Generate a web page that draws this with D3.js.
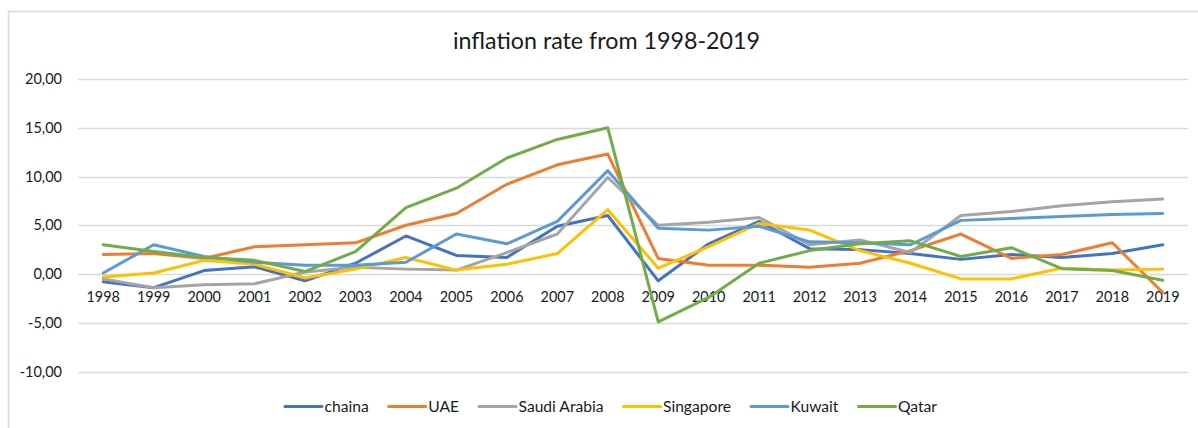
<!DOCTYPE html>
<html>
<head>
<meta charset="utf-8">
<script src="https://cdn.jsdelivr.net/npm/d3@7"></script>
<style>
  html, body { margin: 0; padding: 0; background: #fff; }
  svg { display: block; font-family: Lato, "Open Sans", sans-serif; }
</style>
</head>
<body>
<svg id="chart" width="1198" height="428"></svg>
<script>
const years = [1998,1999,2000,2001,2002,2003,2004,2005,2006,2007,2008,2009,2010,2011,2012,2013,2014,2015,2016,2017,2018,2019];
const chaina      = [-0.8,-1.4,0.35,0.75,-0.7,1.1,3.9,1.9,1.7,4.9,6.0,-0.7,3.1,5.4,2.6,2.5,2.1,1.5,2.0,1.7,2.1,3.0];
const uae         = [2.0,2.1,1.6,2.8,3.0,3.2,5.0,6.2,9.2,11.2,12.3,1.6,0.9,0.9,0.7,1.1,2.4,4.1,1.6,2.0,3.2,-1.9];
const saudiArabia = [-0.5,-1.4,-1.1,-1.0,0.2,0.7,0.5,0.4,2.2,4.1,9.9,5.0,5.3,5.8,3.0,3.5,2.2,6.0,6.4,7.0,7.4,7.7];
const singapore   = [-0.3,0.1,1.4,1.0,-0.4,0.5,1.7,0.4,1.0,2.1,6.6,0.6,2.8,5.2,4.5,2.4,1.1,-0.5,-0.5,0.6,0.4,0.5];
const kuwait      = [0.1,3.0,1.8,1.2,0.9,0.9,1.2,4.1,3.1,5.4,10.6,4.7,4.5,4.9,3.3,3.2,3.0,5.5,5.7,5.9,6.1,6.2];
const qatar       = [3.0,2.3,1.7,1.4,0.25,2.3,6.8,8.8,11.9,13.8,15.0,-4.9,-2.4,1.1,2.4,3.1,3.4,1.8,2.7,0.55,0.35,-0.65];
const seriesNames = ["chaina","UAE","Saudi Arabia","Singapore","Kuwait","Qatar"];
const yTicks = [-10,-5,0,5,10,15,20];
const titleText = "inflation rate from 1998-2019";

const colors = ["#4472C4","#ED7D31","#A5A5A5","#FFC000","#5B9BD5","#70AD47"];
const seriesData = [chaina, uae, saudiArabia, singapore, kuwait, qatar];

const svg = d3.select("#chart");
const plot = {left: 78, right: 1188, top: 79, bottom: 371.5};

// helper: fit text to a target width by adjusting font-size
function fitText(sel, targetWidth) {
  const node = sel.node();
  const w = node.getComputedTextLength();
  const fs = parseFloat(sel.attr("font-size"));
  if (w > 0) sel.attr("font-size", (fs * targetWidth / w).toFixed(2));
}

// chart border (partial, as visible)
svg.append("path")
  .attr("d", `M8.5,${428} L8.5,11.5 L1198,11.5`)
  .attr("fill", "none").attr("stroke", "#D9D9D9").attr("stroke-width", 1.5);

const x = d3.scaleBand().domain(years).range([plot.left, plot.right]);
const y = d3.scaleLinear().domain([-10, 20]).range([plot.bottom, plot.top]);

const locale = d3.formatLocale({decimal: ",", thousands: ".", grouping: [3], currency: ["", ""], minus: "-"});
const fmt = locale.format(".2f");

// gridlines
svg.append("g").selectAll("line").data(yTicks).join("line")
  .attr("x1", plot.left).attr("x2", plot.right)
  .attr("y1", d => Math.round(y(d)) + 0.5).attr("y2", d => Math.round(y(d)) + 0.5)
  .attr("stroke", "#D9D9D9").attr("stroke-width", 1.3);

// y axis labels
const yAxis = d3.axisLeft(y).tickValues(yTicks).tickFormat(fmt).tickSize(0).tickPadding(0);
const yg = svg.append("g").attr("transform", `translate(62,0)`).call(yAxis);
yg.select(".domain").remove();
yg.selectAll("text").attr("font-size", 15).attr("fill", "#1a1a1a")
  .attr("font-family", "Lato, sans-serif");
// scale label size so "20,00" is ~37px wide
(function(){
  const t = yg.selectAll("text").filter(d => d === 20);
  const w = t.node().getComputedTextLength();
  const fs = 15 * 37 / w;
  yg.selectAll("text").attr("font-size", fs.toFixed(2));
})();

// x axis labels (crossing at 0)
const xAxis = d3.axisBottom(x).tickSize(0).tickPadding(0);
const xg = svg.append("g").attr("transform", `translate(0,${y(0)})`).call(xAxis);
xg.select(".domain").remove();
xg.selectAll("text").attr("font-size", 15).attr("fill", "#1a1a1a")
  .attr("font-family", "Lato, sans-serif").attr("dy", null).attr("y", 27.5);
(function(){
  const t = xg.selectAll("text").filter(d => d === 1998);
  const w = t.node().getComputedTextLength();
  const fs = 15 * 33.5 / w;
  xg.selectAll("text").attr("font-size", fs.toFixed(2));
})();

// lines
const line = d3.line().x((d, i) => x(years[i]) + x.bandwidth() / 2).y(d => y(d));
svg.append("g").selectAll("path").data(seriesData).join("path")
  .attr("d", d => line(d))
  .attr("fill", "none")
  .attr("stroke", (d, i) => colors[i])
  .attr("stroke-width", 3)
  .attr("stroke-linejoin", "round")
  .attr("stroke-linecap", "round");

// title
const title = svg.append("text")
  .attr("x", 606.5).attr("y", 49)
  .attr("text-anchor", "middle")
  .attr("font-size", 21).attr("fill", "#1a1a1a")
  .attr("font-family", "Lato, sans-serif")
  .text(titleText);
fitText(title, 307);

// legend
const legend = svg.append("g");
const legendItems = legend.selectAll("g").data(seriesNames).join("g");
legendItems.append("line")
  .attr("x1", 0).attr("x2", 37).attr("y1", 0).attr("y2", 0)
  .attr("stroke", (d, i) => colors[i]).attr("stroke-width", 3).attr("stroke-linecap", "round");
const ltexts = legendItems.append("text")
  .attr("x", 39.5).attr("y", 5.6)
  .attr("font-size", 15).attr("fill", "#1a1a1a")
  .attr("font-family", "Lato, sans-serif")
  .text(d => d);
(function(){
  const t = ltexts.filter(d => d === "Saudi Arabia");
  const w = t.node().getComputedTextLength();
  const fs = 15 * 85 / w;
  ltexts.attr("font-size", fs.toFixed(2));
  let cx = 0;
  const pos = [];
  ltexts.each(function(d, i) {
    pos.push(cx);
    cx += 39.5 + this.getComputedTextLength() + 20;
  });
  const total = cx - 20;
  const start = 611 - total / 2;
  legendItems.attr("transform", (d, i) => `translate(${start + pos[i]},406.5)`);
})();
</script>
</body>
</html>
